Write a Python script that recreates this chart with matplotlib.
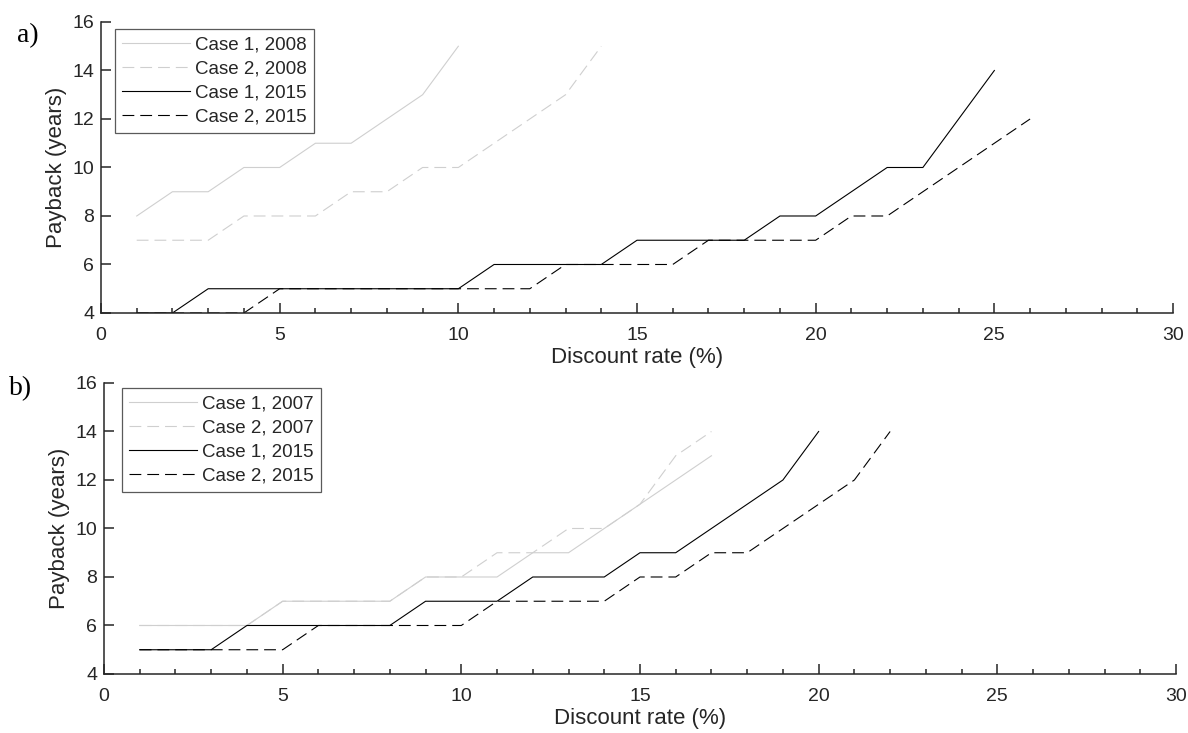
import numpy as np
import matplotlib
matplotlib.use("Agg")
import matplotlib.pyplot as plt
from matplotlib.ticker import MultipleLocator

plt.rcParams['font.family'] = ['Liberation Sans', 'DejaVu Sans']
plt.rcParams['lines.scale_dashes'] = False

## panel a
xa_c1_08 = list(range(1, 11))
ya_c1_08 = [8, 9, 9, 10, 10, 11, 11, 12, 13, 15]
xa_c2_08 = list(range(1, 15))
ya_c2_08 = [7, 7, 7, 8, 8, 8, 9, 9, 10, 10, 11, 12, 13, 15]
xa_c1_15 = list(range(1, 26))
ya_c1_15 = [4, 4, 5, 5, 5, 5, 5, 5, 5, 5, 6, 6, 6, 6, 7, 7, 7, 7, 8, 8, 9, 10, 10, 12, 14]
xa_c2_15 = list(range(1, 27))
ya_c2_15 = [4, 4, 4, 4, 5, 5, 5, 5, 5, 5, 5, 5, 6, 6, 6, 6, 7, 7, 7, 7, 8, 8, 9, 10, 11, 12]

## panel b
xb_c1_07 = list(range(1, 18))
yb_c1_07 = [6, 6, 6, 6, 7, 7, 7, 7, 8, 8, 8, 9, 9, 10, 11, 12, 13]
xb_c2_07 = list(range(1, 18))
yb_c2_07 = [6, 6, 6, 6, 7, 7, 7, 7, 8, 8, 9, 9, 10, 10, 11, 13, 14]
xb_c1_15 = list(range(1, 21))
yb_c1_15 = [5, 5, 5, 6, 6, 6, 6, 6, 7, 7, 7, 8, 8, 8, 9, 9, 10, 11, 12, 14]
xb_c2_15 = list(range(1, 23))
yb_c2_15 = [5, 5, 5, 5, 5, 6, 6, 6, 6, 6, 7, 7, 7, 7, 8, 8, 9, 9, 10, 11, 12, 14]

light = '#cfcfcf'
dash = (0, (8.5, 4.3))
axcol = '#262626'

fig = plt.figure(figsize=(11.88, 7.33), dpi=100)
ax_a = fig.add_axes([0.085, 0.573, 0.9024, 0.397])
ax_b = fig.add_axes([0.0875, 0.0805, 0.9024, 0.397])

ax_a.plot(xa_c1_08, ya_c1_08, color=light, lw=0.8, label='Case 1, 2008')
ax_a.plot(xa_c2_08, ya_c2_08, color=light, lw=0.8, ls=dash, label='Case 2, 2008')
ax_a.plot(xa_c1_15, ya_c1_15, color='k', lw=0.8, label='Case 1, 2015')
ax_a.plot(xa_c2_15, ya_c2_15, color='k', lw=0.8, ls=dash, label='Case 2, 2015')

ax_b.plot(xb_c1_07, yb_c1_07, color=light, lw=0.8, label='Case 1, 2007')
ax_b.plot(xb_c2_07, yb_c2_07, color=light, lw=0.8, ls=dash, label='Case 2, 2007')
ax_b.plot(xb_c1_15, yb_c1_15, color='k', lw=0.8, label='Case 1, 2015')
ax_b.plot(xb_c2_15, yb_c2_15, color='k', lw=0.8, ls=dash, label='Case 2, 2015')

for ax, anchor in [(ax_a, (0.013, 0.976)), (ax_b, (0.0168, 0.983))]:
    ax.set_xlim(0, 30)
    ax.set_ylim(4, 16)
    ax.xaxis.set_major_locator(MultipleLocator(5))
    ax.xaxis.set_minor_locator(MultipleLocator(1))
    ax.yaxis.set_major_locator(MultipleLocator(2))
    for s in ['top', 'right']:
        ax.spines[s].set_visible(False)
    for s in ['left', 'bottom']:
        ax.spines[s].set_color(axcol)
        ax.spines[s].set_linewidth(1.1)
    ax.tick_params(which='major', direction='in', length=7.5, width=1.1, color=axcol,
                   labelsize=14, labelcolor=axcol)
    ax.tick_params(axis='x', which='major', pad=10)
    ax.tick_params(axis='y', which='major', pad=5)
    ax.tick_params(which='minor', direction='in', length=3.6, width=1.1, color=axcol)
    ax.set_xlabel('Discount rate (%)', fontsize=16, color=axcol, labelpad=2)
    ax.set_ylabel('Payback (years)', fontsize=16, color=axcol, labelpad=4)
    leg = ax.legend(loc='upper left', bbox_to_anchor=anchor, borderaxespad=0,
                    fontsize=13.5, handlelength=3.6, handletextpad=0.3,
                    labelspacing=0.38, borderpad=0.38, fancybox=False, framealpha=1)
    leg.get_frame().set_edgecolor('#5a5a5a')
    leg.get_frame().set_linewidth(0.9)
    for t in leg.get_texts():
        t.set_color(axcol)

fig.text(0.0143, 0.943, 'a)', fontsize=20, family='Liberation Serif', va='baseline')
fig.text(0.0076, 0.4615, 'b)', fontsize=20, family='Liberation Serif', va='baseline')

fig.savefig('out.png', dpi=100)
